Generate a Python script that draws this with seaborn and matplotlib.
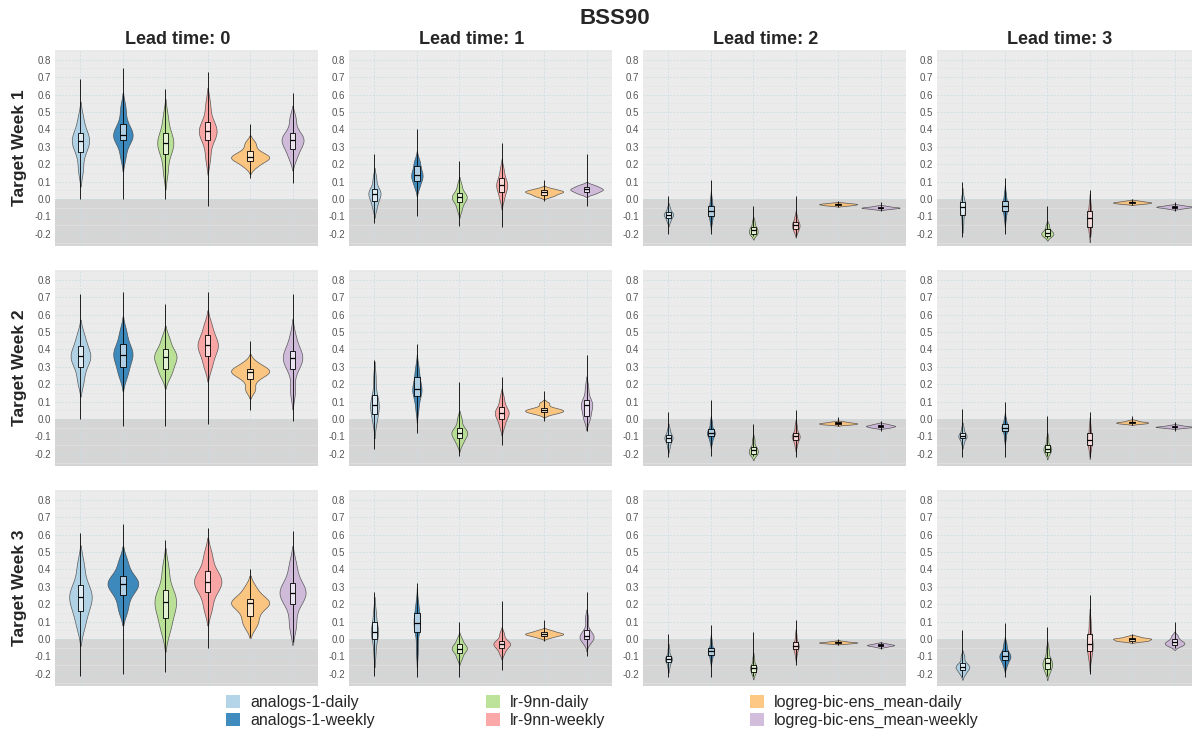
# BSS90 violin grid: target week (rows) x lead time (columns)

import numpy as np
import pandas as pd
import matplotlib
matplotlib.use("Agg")
import matplotlib.pyplot as plt
from matplotlib.patches import Patch
from matplotlib.ticker import MultipleLocator
import seaborn as sns

models = ['analogs-1-daily', 'analogs-1-weekly', 'lr-9nn-daily', 'lr-9nn-weekly',
          'logreg-bic-ens_mean-daily', 'logreg-bic-ens_mean-weekly']
colors = ['#a6cee3', '#1f78b4', '#b2df8a', '#fb9a99', '#fdbf6f', '#cab2d6']
lead_times = [0, 1, 2, 3]
target_weeks = [1, 2, 3]
yticks = [-0.2, -0.1, 0.0, 0.1, 0.2, 0.3, 0.4, 0.5, 0.6, 0.7, 0.8]

# values, per violin: min, ~p10, q1, ~p37, median, ~p63, q3, ~p90, max
wk1_lead0 = [
    [0.0, 0.17, 0.27, 0.31, 0.335, 0.355, 0.38, 0.46, 0.69],
    [0.0, 0.25, 0.34, 0.35, 0.365, 0.39, 0.43, 0.52, 0.75],
    [0.0, 0.16, 0.26, 0.30, 0.32, 0.345, 0.38, 0.47, 0.63],
    [-0.04, 0.24, 0.34, 0.37, 0.39, 0.41, 0.44, 0.54, 0.73],
    [0.12, 0.19, 0.22, 0.235, 0.24, 0.25, 0.275, 0.32, 0.43],
    [0.09, 0.24, 0.29, 0.32, 0.34, 0.355, 0.38, 0.46, 0.61],
]
wk1_lead1 = [
    [-0.14, -0.05, -0.01, 0.02, 0.03, 0.04, 0.06, 0.12, 0.26],
    [-0.10, 0.07, 0.105, 0.125, 0.14, 0.155, 0.19, 0.22, 0.40],
    [-0.155, -0.06, -0.02, 0.0, 0.01, 0.02, 0.035, 0.08, 0.22],
    [-0.16, 0.0, 0.04, 0.065, 0.08, 0.095, 0.12, 0.17, 0.32],
    [-0.01, 0.015, 0.025, 0.035, 0.04, 0.045, 0.05, 0.06, 0.11],
    [-0.04, 0.03, 0.04, 0.05, 0.055, 0.06, 0.07, 0.08, 0.26],
]
wk1_lead2 = [
    [-0.20, -0.13, -0.11, -0.095, -0.09, -0.085, -0.075, -0.05, 0.02],
    [-0.20, -0.13, -0.10, -0.08, -0.07, -0.06, -0.04, 0.0, 0.11],
    [-0.215, -0.205, -0.20, -0.19, -0.18, -0.17, -0.16, -0.13, -0.04],
    [-0.21, -0.19, -0.17, -0.16, -0.15, -0.14, -0.13, -0.10, 0.02],
    [-0.045, -0.038, -0.035, -0.032, -0.03, -0.028, -0.026, -0.022, -0.01],
    [-0.07, -0.058, -0.054, -0.051, -0.05, -0.048, -0.045, -0.04, -0.015],
]
wk1_lead3 = [
    [-0.22, -0.14, -0.09, -0.06, -0.045, -0.035, -0.02, 0.01, 0.10],
    [-0.20, -0.11, -0.07, -0.05, -0.04, -0.03, -0.01, 0.03, 0.12],
    [-0.225, -0.215, -0.21, -0.20, -0.195, -0.19, -0.175, -0.15, -0.04],
    [-0.22, -0.19, -0.16, -0.13, -0.11, -0.095, -0.07, -0.03, 0.05],
    [-0.035, -0.028, -0.025, -0.022, -0.02, -0.018, -0.015, -0.01, 0.0],
    [-0.07, -0.055, -0.05, -0.047, -0.045, -0.043, -0.04, -0.035, -0.02],
]
wk2_lead0 = [
    [0.0, 0.22, 0.30, 0.34, 0.36, 0.38, 0.42, 0.48, 0.72],
    [-0.04, 0.25, 0.30, 0.35, 0.37, 0.39, 0.43, 0.50, 0.73],
    [-0.04, 0.25, 0.29, 0.33, 0.355, 0.37, 0.40, 0.46, 0.66],
    [-0.03, 0.30, 0.36, 0.40, 0.425, 0.44, 0.48, 0.54, 0.73],
    [0.05, 0.17, 0.23, 0.26, 0.27, 0.28, 0.29, 0.32, 0.45],
    [-0.01, 0.16, 0.29, 0.33, 0.35, 0.37, 0.39, 0.47, 0.72],
]
wk2_lead1 = [
    [-0.17, -0.02, 0.03, 0.06, 0.08, 0.10, 0.14, 0.24, 0.34],
    [-0.08, 0.06, 0.13, 0.16, 0.17, 0.19, 0.24, 0.29, 0.43],
    [-0.21, -0.14, -0.11, -0.09, -0.08, -0.07, -0.05, 0.0, 0.21],
    [-0.15, -0.04, 0.0, 0.025, 0.035, 0.045, 0.07, 0.12, 0.24],
    [-0.01, 0.03, 0.04, 0.045, 0.05, 0.055, 0.065, 0.09, 0.16],
    [-0.07, 0.0, 0.02, 0.06, 0.08, 0.09, 0.11, 0.18, 0.37],
]
wk2_lead2 = [
    [-0.22, -0.16, -0.13, -0.115, -0.11, -0.10, -0.09, -0.06, 0.04],
    [-0.21, -0.13, -0.10, -0.085, -0.08, -0.075, -0.06, -0.02, 0.11],
    [-0.215, -0.205, -0.20, -0.19, -0.18, -0.17, -0.16, -0.12, -0.03],
    [-0.22, -0.15, -0.12, -0.105, -0.10, -0.095, -0.08, -0.04, 0.05],
    [-0.04, -0.032, -0.03, -0.027, -0.025, -0.023, -0.02, -0.015, 0.01],
    [-0.07, -0.05, -0.047, -0.042, -0.04, -0.038, -0.033, -0.028, -0.01],
]
wk2_lead3 = [
    [-0.22, -0.14, -0.11, -0.105, -0.10, -0.09, -0.08, -0.05, 0.06],
    [-0.22, -0.11, -0.07, -0.055, -0.05, -0.045, -0.03, 0.0, 0.10],
    [-0.215, -0.20, -0.19, -0.175, -0.17, -0.165, -0.15, -0.11, 0.02],
    [-0.22, -0.18, -0.15, -0.13, -0.12, -0.11, -0.08, -0.04, 0.04],
    [-0.035, -0.027, -0.025, -0.022, -0.02, -0.018, -0.015, -0.008, 0.015],
    [-0.07, -0.052, -0.048, -0.046, -0.045, -0.043, -0.04, -0.035, -0.02],
]
wk3_lead0 = [
    [-0.21, 0.08, 0.16, 0.21, 0.24, 0.27, 0.31, 0.42, 0.61],
    [-0.20, 0.17, 0.25, 0.30, 0.315, 0.33, 0.36, 0.44, 0.66],
    [-0.19, 0.05, 0.12, 0.18, 0.21, 0.24, 0.28, 0.40, 0.57],
    [-0.05, 0.18, 0.27, 0.31, 0.33, 0.35, 0.39, 0.48, 0.64],
    [0.01, 0.08, 0.13, 0.19, 0.205, 0.21, 0.23, 0.29, 0.40],
    [-0.02, 0.08, 0.20, 0.25, 0.265, 0.28, 0.32, 0.42, 0.62],
]
wk3_lead1 = [
    [-0.21, -0.08, 0.0, 0.03, 0.04, 0.055, 0.10, 0.16, 0.27],
    [-0.22, -0.07, 0.04, 0.08, 0.09, 0.11, 0.15, 0.20, 0.32],
    [-0.22, -0.11, -0.08, -0.06, -0.055, -0.045, -0.03, 0.0, 0.10],
    [-0.18, -0.08, -0.05, -0.035, -0.03, -0.02, -0.01, 0.03, 0.22],
    [-0.01, 0.01, 0.02, 0.025, 0.03, 0.033, 0.04, 0.05, 0.11],
    [-0.10, -0.02, 0.0, 0.01, 0.015, 0.025, 0.05, 0.12, 0.27],
]
wk3_lead2 = [
    [-0.22, -0.16, -0.13, -0.12, -0.115, -0.11, -0.10, -0.06, 0.03],
    [-0.22, -0.12, -0.09, -0.075, -0.07, -0.065, -0.05, -0.01, 0.08],
    [-0.215, -0.20, -0.19, -0.17, -0.165, -0.16, -0.15, -0.11, 0.04],
    [-0.15, -0.09, -0.06, -0.045, -0.04, -0.035, -0.02, 0.02, 0.11],
    [-0.035, -0.026, -0.024, -0.021, -0.02, -0.019, -0.016, -0.012, 0.0],
    [-0.055, -0.045, -0.04, -0.037, -0.035, -0.033, -0.03, -0.025, -0.015],
]
wk3_lead3 = [
    [-0.22, -0.20, -0.18, -0.165, -0.16, -0.155, -0.14, -0.10, 0.05],
    [-0.22, -0.15, -0.12, -0.105, -0.10, -0.09, -0.07, -0.03, 0.09],
    [-0.21, -0.19, -0.17, -0.15, -0.14, -0.13, -0.11, -0.06, 0.07],
    [-0.20, -0.11, -0.07, -0.045, -0.03, -0.01, 0.03, 0.10, 0.25],
    [-0.025, -0.012, -0.01, -0.005, 0.0, 0.003, 0.005, 0.015, 0.03],
    [-0.05, -0.04, -0.035, -0.025, -0.02, -0.015, 0.0, 0.02, 0.10],
]

panels = {
    (1, 0): wk1_lead0, (1, 1): wk1_lead1, (1, 2): wk1_lead2, (1, 3): wk1_lead3,
    (2, 0): wk2_lead0, (2, 1): wk2_lead1, (2, 2): wk2_lead2, (2, 3): wk2_lead3,
    (3, 0): wk3_lead0, (3, 1): wk3_lead1, (3, 2): wk3_lead2, (3, 3): wk3_lead3,
}

sns.set_theme(style='white')
plt.rcParams['font.family'] = ['Liberation Sans', 'DejaVu Sans']
plt.rcParams['axes.unicode_minus'] = False

W, H = 1192, 729
fig = plt.figure(figsize=(W / 100, H / 100), dpi=100)

lefts = [55, 349, 643, 937]
tops = [50, 270, 490]
pw, ph = 263, 196
grid_col = '#c9dce2'

for r, week in enumerate(target_weeks):
    for c, lead in enumerate(lead_times):
        vals = panels[(week, lead)]
        # full values -> box + whiskers (min..max); inner values -> violin body
        df = pd.DataFrame({
            'model': np.repeat(models, [len(v) for v in vals]),
            'value': np.concatenate(vals),
        })
        df_body = pd.DataFrame({
            'model': np.repeat(models, [len(v) - 2 for v in vals]),
            'value': np.concatenate([v[1:-1] for v in vals]),
        })
        ax = fig.add_axes([lefts[c] / W, 1 - (tops[r] + ph) / H, pw / W, ph / H])
        ax.set_facecolor('#ebebeb')
        ax.axhspan(-1, 0, color='#d5d5d5', lw=0, zorder=0.1)

        sns.violinplot(data=df_body, x='model', y='value', hue='model', order=models,
                       hue_order=models, palette=colors, saturation=1, cut=2,
                       bw_adjust=0.8, inner=None, density_norm='area', common_norm=True,
                       width=0.9, linewidth=0.5, linecolor='#444444', alpha=0.85,
                       legend=False, ax=ax)
        sns.boxplot(data=df, x='model', y='value', order=models, width=0.13,
                    whis=(0, 100), showfliers=False, color='white', linecolor='black',
                    linewidth=0.6, ax=ax,
                    boxprops=dict(facecolor=(1, 1, 1, 0.6), edgecolor='black', linewidth=0.6),
                    medianprops=dict(color='black', linewidth=0.9),
                    whiskerprops=dict(color='black', linewidth=0.6),
                    capprops=dict(linewidth=0))

        ax.set_xlim(-0.6, 5.6)
        ax.set_ylim(-0.27, 0.856)
        ax.set_xticks(range(6))
        ax.set_xticklabels([])
        ax.set_yticks(yticks)
        ax.set_yticklabels([f'{t:.1f}' for t in yticks])
        ax.yaxis.set_minor_locator(MultipleLocator(0.05))
        ax.tick_params(axis='both', which='both', length=0, labelsize=7,
                       labelcolor='#555555', pad=3)
        ax.set_axisbelow(True)
        ax.grid(True, which='major', color=grid_col, linestyle=(0, (2, 2)), linewidth=0.6)
        ax.grid(True, which='minor', axis='y', color='#e2e6e8', linestyle='-', linewidth=0.4)
        ax.set_xlabel('')
        ax.set_ylabel('')
        for s in ax.spines.values():
            s.set_visible(False)

        if r == 0:
            ax.set_title(f'Lead time: {lead}', fontsize=13, fontweight='bold', pad=4, x=0.465)
        if c == 0:
            fig.text(20 / W, 1 - (tops[r] + ph / 2) / H, f'Target Week {week}',
                     rotation=90, ha='center', va='center', fontsize=12.5, fontweight='bold')

fig.text(615 / W, 1 - 18 / H, 'BSS90', ha='center', va='center', fontsize=16, fontweight='bold')

# legend in three column groups like the original
legend_x = [226, 486, 750]
for k, x in enumerate(legend_x):
    handles = [Patch(facecolor=colors[2 * k + j], edgecolor='none', alpha=0.85,
                     label=models[2 * k + j]) for j in range(2)]
    fig.legend(handles=handles, loc='upper left', bbox_to_anchor=(x / W, 1 - 695 / H),
               frameon=False, fontsize=11.5, handlelength=0.9, handleheight=0.9,
               handletextpad=0.6, labelspacing=0.15, borderpad=0, borderaxespad=0)

plt.savefig('out.png', dpi=100)
